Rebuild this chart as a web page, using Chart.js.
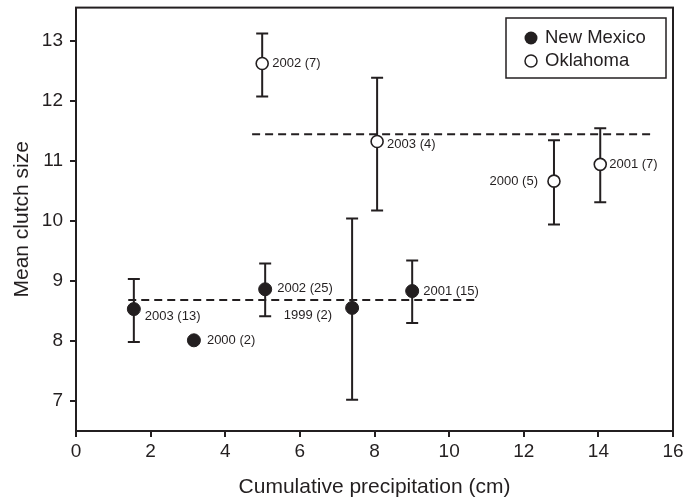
<!DOCTYPE html>
<html lang="en">
<head>
    <meta charset="UTF-8">
    <title>Mean clutch size vs precipitation</title>
    <script src="https://cdn.jsdelivr.net/npm/chart.js"></script>
    <style>
        body { margin: 0; background: #fff; }
        #wrap { width: 687px; height: 500px; }
    </style>
</head>
<body>
    <div id="wrap"><canvas id="clutchChart" width="687" height="500"></canvas></div>

    <script>
        // New Mexico (filled circles)
        const nmPrecip = [1.55, 3.16, 5.07, 7.40, 9.01];
        const nmClutch = [8.53, 8.01, 8.86, 8.55, 8.83];
        const nmLow = [7.98, null, 8.41, 7.02, 8.30];
        const nmHigh = [9.03, null, 9.29, 10.04, 9.34];
        const nmLabels = ['2003 (13)', '2000 (2)', '2002 (25)', '1999 (2)', '2001 (15)'];

        // Oklahoma (open circles)
        const okPrecip = [4.99, 8.07, 12.81, 14.05];
        const okClutch = [12.62, 11.32, 10.66, 10.94];
        const okLow = [12.07, 10.17, 9.94, 10.31];
        const okHigh = [13.12, 12.38, 11.34, 11.54];
        const okLabels = ['2002 (7)', '2003 (4)', '2000 (5)', '2001 (7)'];

        // mean lines: [x start, x end], y level
        const nmMeanSpan = [1.4, 10.78];
        const nmMean = 8.68;
        const okMeanSpan = [4.72, 15.47];
        const okMean = 11.44;

        const xTicks = [0, 2, 4, 6, 8, 10, 12, 14, 16];
        const yTicks = [7, 8, 9, 10, 11, 12, 13];

        // label placement (px offset from the point, text alignment)
        const nmLabelPos = [[11, 7, 'left'], [13, 0, 'left'], [12, -1, 'left'], [-20, 8, 'right'], [11, 0, 'left']];
        const okLabelPos = [[10, 0, 'left'], [10, 3, 'left'], [-16, 0, 'right'], [9, 0, 'left']];

        const ink = '#231f20';
        const fontFam = "'Liberation Sans', Arial, Helvetica, sans-serif";

        const toPts = (xs, ys) => xs.map((x, i) => ({ x: x, y: ys[i] }));

        const errorBars = {
            id: 'errorBars',
            beforeDatasetsDraw(chart) {
                const { ctx, scales: { x, y } } = chart;
                ctx.save();
                ctx.strokeStyle = ink;
                ctx.lineWidth = 2;
                const draw = (xs, lo, hi) => {
                    xs.forEach((v, i) => {
                        if (lo[i] == null) return;
                        const px = x.getPixelForValue(v);
                        const top = y.getPixelForValue(hi[i]);
                        const bot = y.getPixelForValue(lo[i]);
                        ctx.beginPath();
                        ctx.moveTo(px, top); ctx.lineTo(px, bot);
                        ctx.moveTo(px - 6, top); ctx.lineTo(px + 6, top);
                        ctx.moveTo(px - 6, bot); ctx.lineTo(px + 6, bot);
                        ctx.stroke();
                    });
                };
                draw(nmPrecip, nmLow, nmHigh);
                draw(okPrecip, okLow, okHigh);
                ctx.restore();
            },
            afterDraw(chart) {
                const { ctx, chartArea: a, scales: { x, y } } = chart;
                ctx.save();
                // frame
                ctx.strokeStyle = ink;
                ctx.lineWidth = 2;
                ctx.strokeRect(a.left, a.top, a.right - a.left, a.bottom - a.top);

                // point labels
                ctx.fillStyle = ink;
                ctx.font = '13px ' + fontFam;
                ctx.textBaseline = 'middle';
                const label = (xs, ys, texts, pos) => {
                    xs.forEach((v, i) => {
                        ctx.textAlign = pos[i][2];
                        ctx.fillText(texts[i], x.getPixelForValue(v) + pos[i][0], y.getPixelForValue(ys[i]) + pos[i][1]);
                    });
                };
                label(nmPrecip, nmClutch, nmLabels, nmLabelPos);
                label(okPrecip, okClutch, okLabels, okLabelPos);

                // legend
                const lx = 506, ly = 18, lw = 160, lh = 60;
                ctx.fillStyle = '#fff';
                ctx.fillRect(lx, ly, lw, lh);
                ctx.lineWidth = 1.5;
                ctx.strokeRect(lx, ly, lw, lh);
                ctx.font = '18.5px ' + fontFam;
                ctx.textAlign = 'left';
                ctx.beginPath();
                ctx.arc(531, 38, 6.5, 0, Math.PI * 2);
                ctx.fillStyle = ink;
                ctx.fill();
                ctx.beginPath();
                ctx.arc(531, 61, 6, 0, Math.PI * 2);
                ctx.fillStyle = '#fff';
                ctx.fill();
                ctx.stroke();
                ctx.fillStyle = ink;
                ctx.fillText('New Mexico', 545, 38);
                ctx.fillText('Oklahoma', 545, 61);
                ctx.restore();
            }
        };

        const ctx = document.getElementById('clutchChart').getContext('2d');
        const clutchChart = new Chart(ctx, {
            type: 'scatter',
            data: {
                datasets: [
                    {
                        label: 'New Mexico',
                        data: toPts(nmPrecip, nmClutch),
                        pointRadius: 6.5,
                        pointBackgroundColor: ink,
                        pointBorderColor: ink,
                        pointBorderWidth: 1,
                        order: 0
                    },
                    {
                        label: 'Oklahoma',
                        data: toPts(okPrecip, okClutch),
                        pointRadius: 6,
                        pointBackgroundColor: '#fff',
                        pointBorderColor: ink,
                        pointBorderWidth: 1.6,
                        order: 0
                    },
                    {
                        type: 'line',
                        label: 'NM mean',
                        data: toPts(nmMeanSpan, [nmMean, nmMean]),
                        borderColor: ink,
                        borderWidth: 2,
                        borderDash: [8, 5],
                        pointRadius: 0,
                        order: 1
                    },
                    {
                        type: 'line',
                        label: 'OK mean',
                        data: toPts(okMeanSpan, [okMean, okMean]),
                        borderColor: ink,
                        borderWidth: 2,
                        borderDash: [8, 5],
                        pointRadius: 0,
                        order: 1
                    }
                ]
            },
            options: {
                responsive: false,
                animation: false,
                events: [],
                layout: { padding: { top: 7, right: 14, left: 0, bottom: 0 } },
                plugins: { legend: { display: false }, tooltip: { enabled: false } },
                scales: {
                    x: {
                        type: 'linear',
                        min: 0,
                        max: 16,
                        afterBuildTicks: s => { s.ticks = xTicks.map(v => ({ value: v })); },
                        afterFit: s => { s.height = 69; },
                        grid: { drawOnChartArea: false, tickLength: 6, color: ink, lineWidth: 2 },
                        border: { color: ink, width: 2 },
                        ticks: { color: ink, font: { family: fontFam, size: 19 }, padding: 3 },
                        title: { display: true, text: 'Cumulative precipitation (cm)', color: ink, font: { family: fontFam, size: 21 }, padding: { top: 0, bottom: 0 } }
                    },
                    y: {
                        type: 'linear',
                        min: 6.5,
                        max: 13.55,
                        afterBuildTicks: s => { s.ticks = yTicks.map(v => ({ value: v })); },
                        afterFit: s => { s.width = 76; s.paddingTop = 0; s.paddingBottom = 0; },
                        grid: { drawOnChartArea: false, tickLength: 6, color: ink, lineWidth: 2 },
                        border: { color: ink, width: 2 },
                        ticks: { color: ink, font: { family: fontFam, size: 19 }, padding: 7 },
                        title: { display: true, text: 'Mean clutch size', color: ink, font: { family: fontFam, size: 21 }, padding: { top: 10, bottom: 0 } }
                    }
                }
            },
            plugins: [errorBars]
        });
    </script>
</body>
</html>
